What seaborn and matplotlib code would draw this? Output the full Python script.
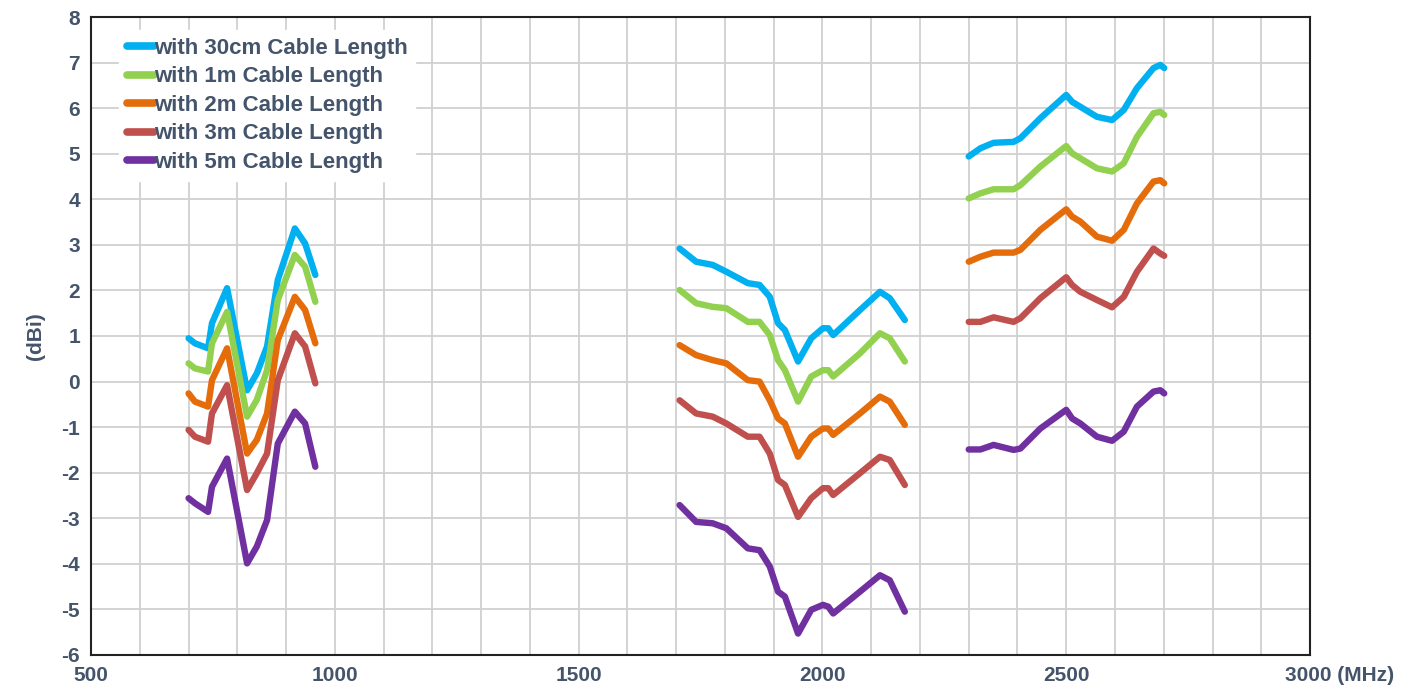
import pandas as pd
import numpy as np
import matplotlib
matplotlib.use('Agg')
import matplotlib.pyplot as plt
import matplotlib.transforms as mtransforms
import seaborn as sns
from matplotlib.ticker import MultipleLocator

# frequencies (MHz) for the three measured bands
freq_low = [700, 713, 740, 748, 779, 820, 840, 861, 883, 918, 939, 960]
freq_mid = [1707, 1741, 1775, 1803, 1847, 1871, 1892, 1909, 1923, 1950,
            1977, 2001, 2012, 2022, 2077, 2118, 2138, 2169]
freq_high = [2300, 2324, 2351, 2392, 2406, 2447, 2500, 2512, 2529, 2563,
             2594, 2618, 2645, 2679, 2693, 2701]

# gain (dBi) per cable length, per band
g30cm_low = [0.95, 0.84, 0.73, 1.28, 2.05, -0.19, 0.18, 0.77, 2.23, 3.36, 3.03, 2.34]
g30cm_mid = [2.92, 2.63, 2.56, 2.41, 2.16, 2.12, 1.86, 1.28, 1.13, 0.44,
             0.95, 1.17, 1.17, 1.02, 1.57, 1.97, 1.83, 1.35]
g30cm_high = [4.94, 5.12, 5.24, 5.26, 5.34, 5.78, 6.29, 6.14, 6.03, 5.81,
              5.74, 5.96, 6.44, 6.88, 6.95, 6.88]

g1m_low = [0.40, 0.29, 0.22, 0.84, 1.53, -0.77, -0.40, 0.25, 1.79, 2.78, 2.52, 1.75]
g1m_mid = [2.01, 1.72, 1.64, 1.61, 1.31, 1.31, 1.02, 0.47, 0.25, -0.44,
           0.11, 0.25, 0.25, 0.11, 0.62, 1.06, 0.95, 0.44]
g1m_high = [4.02, 4.13, 4.22, 4.22, 4.31, 4.72, 5.17, 5.01, 4.90, 4.68,
            4.61, 4.79, 5.37, 5.89, 5.92, 5.85]

g2m_low = [-0.26, -0.44, -0.55, 0.03, 0.73, -1.58, -1.28, -0.70, 0.91, 1.86, 1.57, 0.84]
g2m_mid = [0.80, 0.58, 0.47, 0.40, 0.03, 0.00, -0.41, -0.81, -0.92, -1.65,
           -1.21, -1.03, -1.03, -1.17, -0.70, -0.33, -0.44, -0.95]
g2m_high = [2.63, 2.74, 2.83, 2.83, 2.89, 3.33, 3.78, 3.62, 3.51, 3.18,
            3.09, 3.33, 3.91, 4.39, 4.42, 4.35]

g3m_low = [-1.06, -1.21, -1.32, -0.70, -0.08, -2.38, -2.01, -1.58, 0.03, 1.06, 0.77, -0.04]
g3m_mid = [-0.41, -0.70, -0.77, -0.92, -1.21, -1.21, -1.58, -2.16, -2.27, -2.97,
           -2.56, -2.34, -2.34, -2.49, -2.01, -1.65, -1.72, -2.27]
g3m_high = [1.31, 1.31, 1.41, 1.31, 1.39, 1.83, 2.29, 2.12, 1.97, 1.79,
            1.63, 1.86, 2.41, 2.92, 2.81, 2.76]

g5m_low = [-2.56, -2.67, -2.86, -2.31, -1.69, -3.99, -3.62, -3.04, -1.36, -0.66, -0.92, -1.87]
g5m_mid = [-2.71, -3.08, -3.11, -3.22, -3.66, -3.70, -4.06, -4.61, -4.72, -5.53,
           -5.01, -4.90, -4.94, -5.09, -4.61, -4.25, -4.36, -5.05]
g5m_high = [-1.49, -1.49, -1.39, -1.50, -1.47, -1.03, -0.62, -0.81, -0.92, -1.21,
            -1.30, -1.10, -0.55, -0.22, -0.19, -0.26]

labels = ['with 30cm Cable Length', 'with 1m Cable Length', 'with 2m Cable Length',
          'with 3m Cable Length', 'with 5m Cable Length']
colors = ['#00B0F0', '#92D050', '#E46C0A', '#C0504D', '#7030A0']

series = {
    labels[0]: (g30cm_low, g30cm_mid, g30cm_high),
    labels[1]: (g1m_low, g1m_mid, g1m_high),
    labels[2]: (g2m_low, g2m_mid, g2m_high),
    labels[3]: (g3m_low, g3m_mid, g3m_high),
    labels[4]: (g5m_low, g5m_mid, g5m_high),
}

rows = []
for name, bands in series.items():
    for band, (fr, vals) in enumerate(zip((freq_low, freq_mid, freq_high), bands)):
        for f, v in zip(fr, vals):
            rows.append({'freq': f, 'gain': v, 'cable': name, 'band': band})
df = pd.DataFrame(rows)

sns.set_style('white')
plt.rcParams['font.family'] = ['Liberation Sans', 'DejaVu Sans']
plt.rcParams['axes.unicode_minus'] = False
text_color = '#44546A'

fig = plt.figure(figsize=(14.05, 6.95), dpi=100)
ax = fig.add_axes([0.0648, 0.0576, 0.8676, 0.9179])

sns.lineplot(data=df, x='freq', y='gain', hue='cable', units='band', estimator=None,
             sort=False, palette=colors, hue_order=labels, linewidth=4.6,
             solid_capstyle='round', solid_joinstyle='round', ax=ax)

ax.set_xlim(500, 3000)
ax.set_ylim(-6, 8)
ax.xaxis.set_minor_locator(MultipleLocator(100))
ax.grid(True, which='both', color='#D0D0D0', linewidth=1.3)
ax.set_axisbelow(True)

xt = [500, 1000, 1500, 2000, 2500, 3000]
ax.set_xticks(xt)
ax.set_xticklabels([str(t) for t in xt[:-1]] + ['3000 (MHz)'])
ax.set_yticks(range(-6, 9))
ax.tick_params(axis='both', which='major', labelsize=15, labelcolor=text_color,
               color='#333333', direction='in', length=7, width=1.2, pad=8)
ax.tick_params(axis='x', which='minor', length=0)
for lab in ax.get_xticklabels() + ax.get_yticklabels():
    lab.set_fontweight('bold')

# "3000" sits on its tick, the unit runs on to the right
last = ax.get_xticklabels()[-1]
last.set_horizontalalignment('left')
last.set_transform(last.get_transform() +
                   mtransforms.ScaledTranslation(-0.25, 0, fig.dpi_scale_trans))

ax.set_xlabel('')
ax.set_ylabel('(dBi)', fontsize=15, fontweight='bold', color=text_color, labelpad=12)

for sp in ax.spines.values():
    sp.set_visible(True)
    sp.set_color('#222222')
    sp.set_linewidth(1.5)

leg = ax.legend(loc='upper left', bbox_to_anchor=(0.014, 0.997), fontsize=16,
                frameon=True, framealpha=1, edgecolor='white', fancybox=False,
                handlelength=1.2, handletextpad=0.0, labelspacing=0.34,
                borderpad=0.35)
for t in leg.get_texts():
    t.set_color(text_color)
    t.set_fontweight('bold')
for h in leg.get_lines():
    h.set_linewidth(5.5)

fig.savefig('out.png', dpi=100)
